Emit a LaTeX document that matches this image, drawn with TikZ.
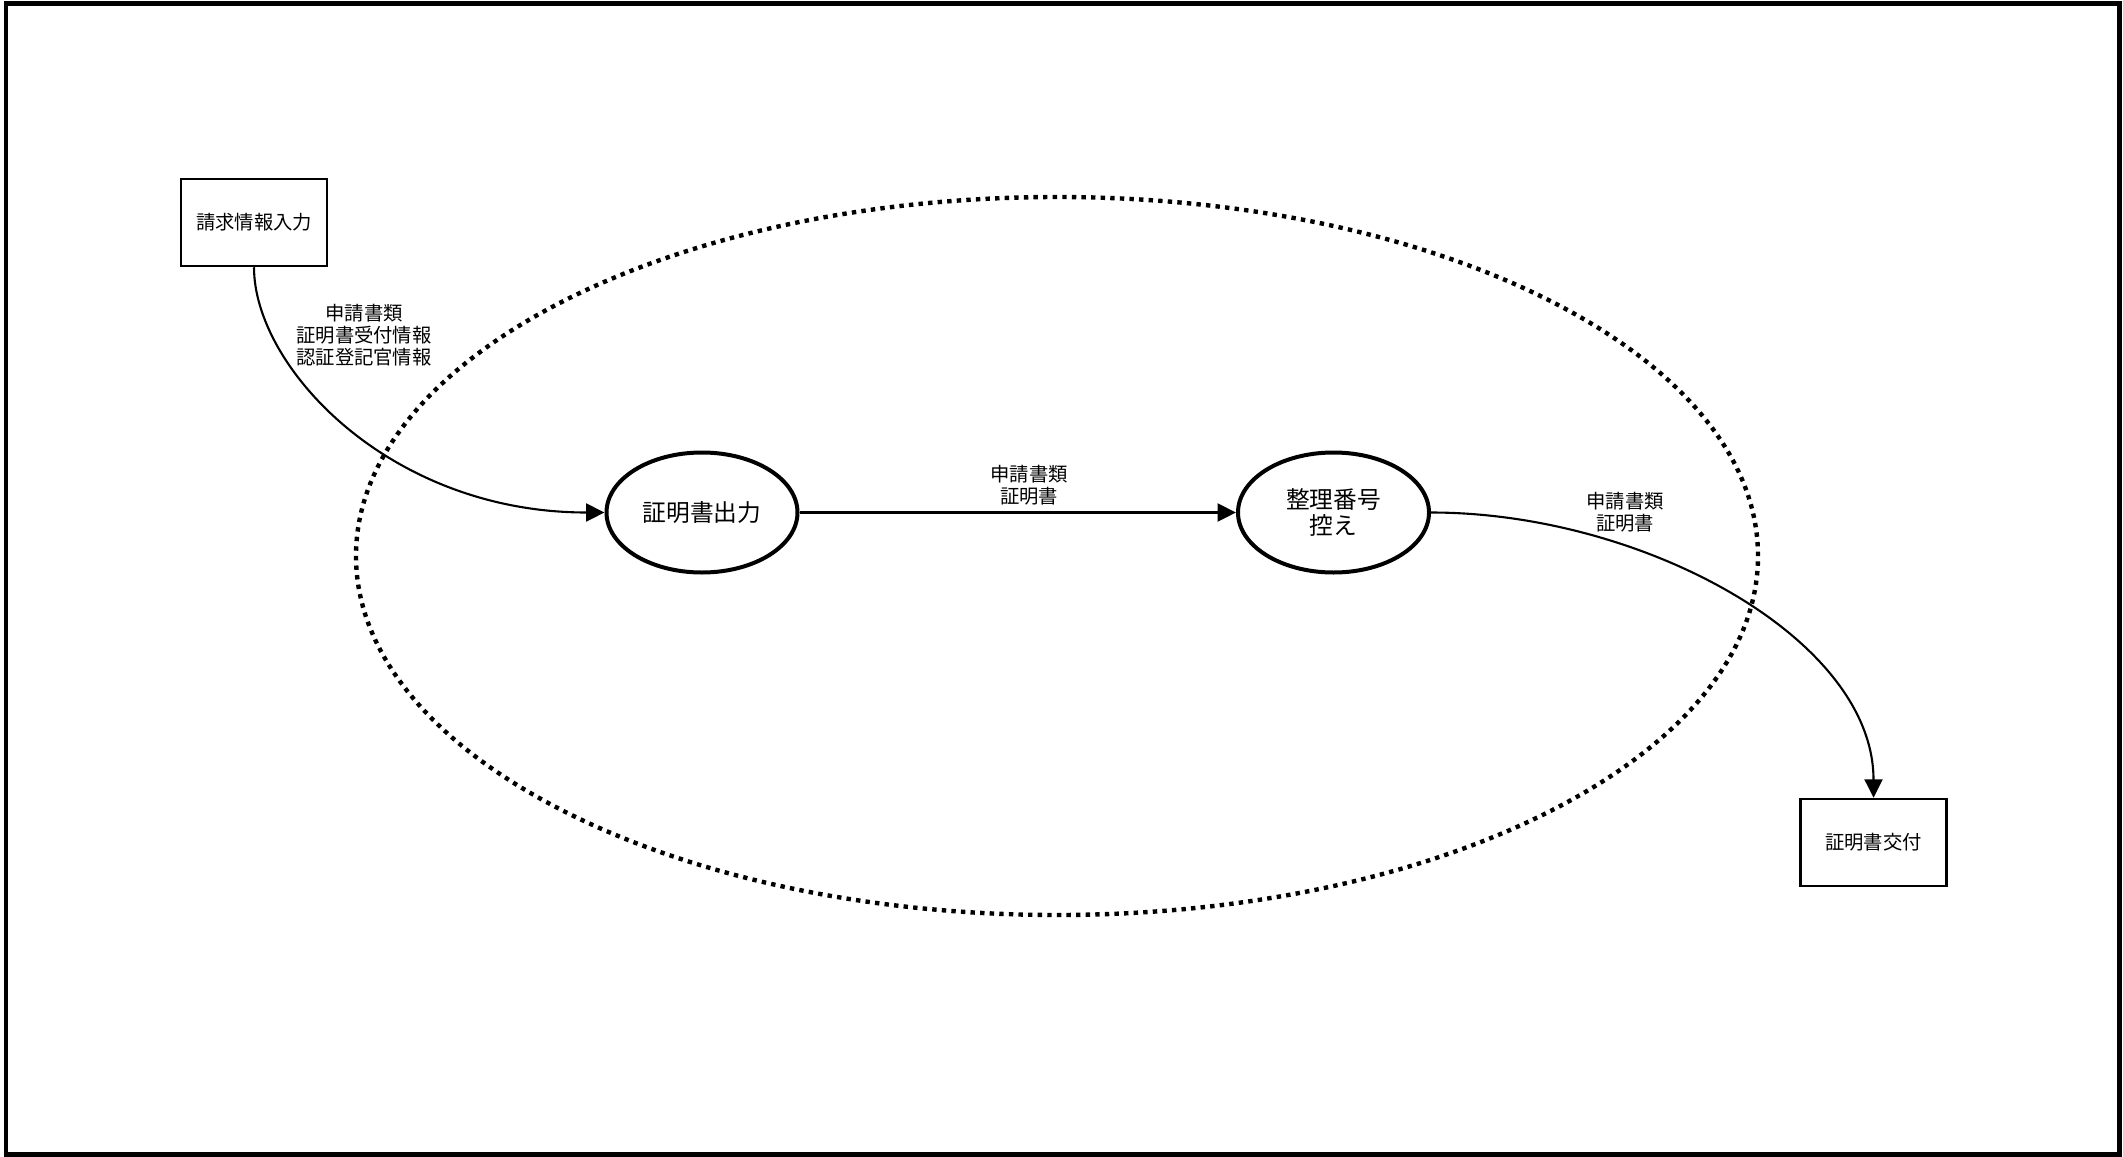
\documentclass[tikz,border=0pt]{standalone}
\usepackage{fontspec}
\setmainfont{Noto Sans CJK JP}
\usetikzlibrary{arrows.meta,shapes.geometric}
\definecolor{ink}{RGB}{0,0,0}
\tikzset{
  >={Triangle[length=0.37cm,width=0.36cm]},
  term/.style={draw=ink,line width=0.05cm,minimum width=2.92cm,minimum height=1.74cm,
    inner sep=0pt,align=center,font=\fontsize{11pt}{12.5pt}\selectfont},
  proc/.style={ellipse,draw=ink,line width=0.08cm,minimum width=3.82cm,minimum height=2.4cm,
    inner sep=0pt,align=center,font=\fontsize{13.5pt}{15pt}\selectfont},
  flow/.style={->,line width=0.042cm,draw=ink},
  tag/.style={align=center,inner sep=0pt,font=\fontsize{11pt}{12.5pt}\selectfont},
  boundary/.style={draw=ink,line width=0.088cm,dash pattern=on 0.088cm off 0.104cm},
}
\begin{document}
\begin{tikzpicture}
  \useasboundingbox (0,0) rectangle (42.46,-23.12);
  \draw[ink,line width=0.09cm] (0.124,-0.066) rectangle (42.394,-23.09);
  % system boundary
  \draw[boundary] (21.14,-11.12) ellipse [x radius=14.02cm,y radius=7.18cm];
  \node[term] (req) at (5.08,-4.45) {請求情報入力};
  \node[term] (deliver) at (37.47,-16.85) {証明書交付};
  \node[proc] (print) at (14.04,-10.25) {証明書出力};
  \node[proc] (keep) at (26.67,-10.25) {整理番号\\控え};
  \draw[flow] (req.south) .. controls +(0,-2.0) and +(-4.3,0) .. (print.west);
  \draw[flow] (print) -- (keep);
  \draw[flow] (keep.east) .. controls +(4.24,0) and +(0,3.18) .. (deliver.north);
  \node[tag] (lab1) at (7.28,-6.7) {申請書類\\証明書受付情報\\認証登記官情報};
  \node[tag] (lab2) at (20.58,-9.71) {申請書類\\証明書};
  \node[tag] (lab3) at (32.5,-10.25) {申請書類\\証明書};
\end{tikzpicture}
\end{document}
